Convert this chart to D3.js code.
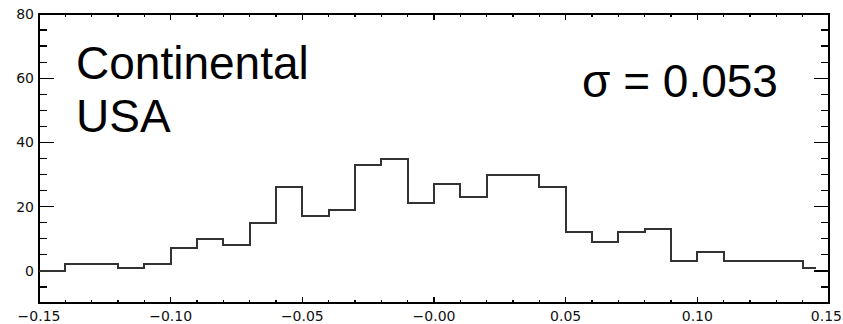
<!DOCTYPE html>
<html>
<head>
<meta charset="utf-8">
<script src="https://cdn.jsdelivr.net/npm/d3@7"></script>
<style>
  html, body { margin: 0; padding: 0; background: #fff; }
  svg { display: block; }
  .tick-label { font-family: "DejaVu Sans", sans-serif; font-size: 14px; fill: #111; }
  .big { font-family: "Liberation Sans", Arial, sans-serif; font-size: 46px; fill: #000; }
</style>
</head>
<body>
<svg id="chart" width="843" height="324"></svg>
<script>
// ---- data ----
const binEdges = [-0.15,-0.14,-0.13,-0.12,-0.11,-0.10,-0.09,-0.08,-0.07,-0.06,-0.05,-0.04,-0.03,-0.02,-0.01,
                  0.00,0.01,0.02,0.03,0.04,0.05,0.06,0.07,0.08,0.09,0.10,0.11,0.12,0.13,0.14,0.145];
const counts = [0,2,2,1,2,7,10,8,15,26,17,19,33,35,21,27,23,30,30,26,12,9,12,13,3,6,3,3,3,1];
const xMajorTicks = [-0.15,-0.10,-0.05,0.00,0.05,0.10,0.15];
const xTickLabels = ["\u22120.15","\u22120.10","\u22120.05","\u22120.00","0.05","0.10","0.15"];
const yMajorTicks = [0,20,40,60,80];
const yTickLabels = ["0","20","40","60","80"];
const regionLabel = ["Continental","USA"];
const sigmaLabel = "\u03c3 = 0.053";

// ---- layout ----
const L = 39, R = 829, T = 14, B = 303, W = 843;
const svg = d3.select("#chart");
const x = d3.scaleLinear().domain([-0.15, 0.15]).range([L, R]);
const y = d3.scaleLinear().domain([-10, 80]).range([B, T]);

const xMinor = d3.range(-15, 16).map(d => d / 100);
const yMinor = d3.range(-10, 81, 5);

const g = svg.append("g").attr("stroke", "#000").attr("stroke-width", 1.3).attr("shape-rendering", "crispEdges");

// x ticks (bottom, top)
xMinor.forEach(v => {
  const major = xMajorTicks.some(m => Math.abs(m - v) < 1e-9);
  const len = major ? 6 : 3;
  g.append("line").attr("x1", x(v)).attr("x2", x(v)).attr("y1", B).attr("y2", B - len);
  g.append("line").attr("x1", x(v)).attr("x2", x(v)).attr("y1", T).attr("y2", T + len);
});
// y ticks (left, right)
yMinor.forEach(v => {
  const major = yMajorTicks.includes(v);
  const len = major ? 15 : 8;
  g.append("line").attr("y1", y(v)).attr("y2", y(v)).attr("x1", L).attr("x2", L + len);
  g.append("line").attr("y1", y(v)).attr("y2", y(v)).attr("x1", R).attr("x2", R - len);
});

// frame
g.append("rect").attr("x", L).attr("y", T).attr("width", R - L).attr("height", B - T).attr("fill", "none");

// histogram
const pts = counts.map((c, i) => [binEdges[i], c]);
pts.push([binEdges[binEdges.length - 1], counts[counts.length - 1]]);
const line = d3.line().x(d => x(d[0])).y(d => y(d[1])).curve(d3.curveStepAfter);
svg.append("path").attr("d", line(pts)).attr("fill", "none")
  .attr("stroke", "#333").attr("stroke-width", 2).attr("shape-rendering", "crispEdges");

// tick labels (keep inside the page)
svg.selectAll(".xl").data(xMajorTicks).enter().append("text")
  .attr("class", "tick-label").attr("y", 321)
  .attr("x", d => x(d)).attr("text-anchor", "middle")
  .text((d, i) => xTickLabels[i])
  .each(function() {
    const bb = this.getBBox();
    if (bb.x + bb.width > W - 1) d3.select(this).attr("x", W - 1).attr("text-anchor", "end");
  });
svg.selectAll(".yl").data(yMajorTicks).enter().append("text")
  .attr("class", "tick-label").attr("x", 34).attr("y", d => y(d) + 5)
  .attr("text-anchor", "end").text((d, i) => yTickLabels[i]);

// annotations
svg.append("text").attr("class", "big").attr("x", 76).attr("y", 79).text(regionLabel[0]);
svg.append("text").attr("class", "big").attr("x", 76).attr("y", 132).text(regionLabel[1]);
svg.append("text").attr("class", "big").attr("x", 582).attr("y", 97).text(sigmaLabel);
</script>
</body>
</html>
